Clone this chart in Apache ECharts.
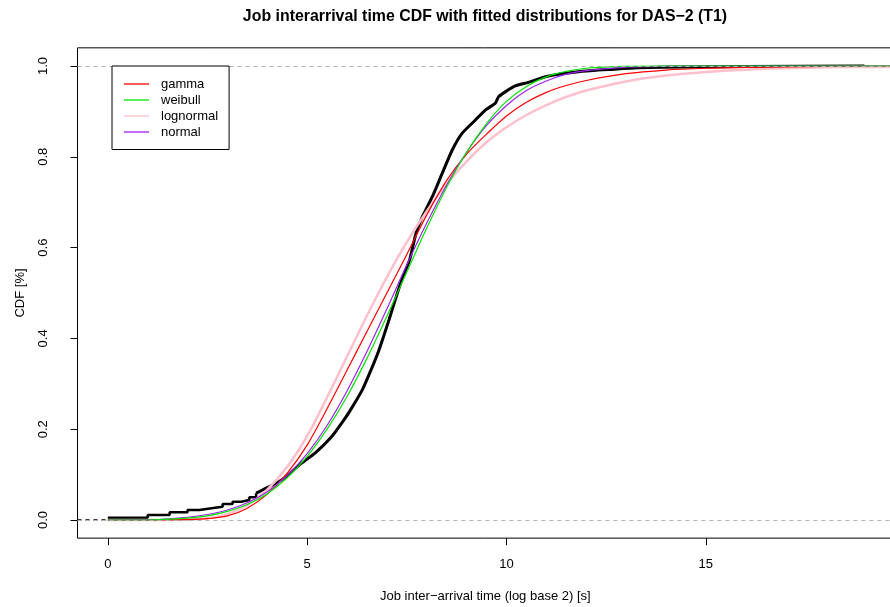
<!DOCTYPE html>
<html>
<head>
<meta charset="utf-8">
<script src="https://cdn.jsdelivr.net/npm/echarts@6.0.0/dist/echarts.min.js"></script>
<style>
html,body{margin:0;padding:0;background:#fff;}
#chart{width:890px;height:607px;}
</style>
</head>
<body>
<div id="chart"></div>
<script>
// ---- data ----
const titleText = 'Job interarrival time CDF with fitted distributions for DAS\u22122 (T1)';
const xTitle = 'Job inter\u2212arrival time (log base 2) [s]';
const yTitle = 'CDF [%]';
const xTicks = [0, 5, 10, 15];
const yTicks = [0, 0.2, 0.4, 0.6, 0.8, 1.0];
const xMin = -0.76, xMax = 19.7;
const yMin = -0.04, yMax = 1.04;
const refLines = [0, 1];

// empirical CDF: sparse steps at the left
const ecdfStepX = [0, 1, 1.55, 2, 2.3, 2.6, 2.88, 3.13, 3.35, 3.55, 3.72];
const ecdfStepY = [0.005, 0.011, 0.017, 0.022, 0.026, 0.029, 0.035, 0.040, 0.044, 0.050, 0.059];
// empirical CDF: dense part
const ecdfX = [3.72, 3.88, 4.22, 4.47, 4.8, 5.22, 5.63, 5.88, 6.05, 6.38, 6.6, 6.8, 7.05, 7.26, 7.4, 7.57, 7.73, 7.89, 8.14, 8.39, 8.64, 8.89, 9.22, 9.47, 9.72, 9.8, 9.97, 10.22, 10.55, 11.0, 11.85, 12.7, 13.3, 14.5, 16, 18.98];
const ecdfY = [0.059, 0.066, 0.081, 0.095, 0.121, 0.149, 0.185, 0.215, 0.237, 0.286, 0.33, 0.374, 0.44, 0.499, 0.535, 0.573, 0.631, 0.668, 0.712, 0.764, 0.815, 0.852, 0.881, 0.903, 0.918, 0.932, 0.943, 0.956, 0.964, 0.977, 0.988, 0.993, 0.996, 0.998, 0.999, 1.0];

// fitted distributions
const fitX      = [0, 1, 2, 2.5, 3, 3.5, 4, 4.5, 5, 5.5, 6, 6.5, 7, 7.5, 8, 8.5, 9, 9.5, 10, 10.5, 11, 11.5, 12, 13, 14, 15, 16, 17, 18, 19.7];
const gammaY    = [0, 0, 0.001, 0.003, 0.009, 0.026, 0.057, 0.103, 0.165, 0.245, 0.33, 0.415, 0.5, 0.585, 0.672, 0.748, 0.806, 0.85, 0.89, 0.92, 0.942, 0.957, 0.968, 0.983, 0.991, 0.995, 0.997, 0.998, 0.999, 1.0];
const weibullY  = [0, 0, 0.004, 0.009, 0.019, 0.034, 0.058, 0.093, 0.14, 0.2, 0.272, 0.356, 0.449, 0.546, 0.643, 0.733, 0.81, 0.873, 0.922, 0.955, 0.976, 0.988, 0.995, 0.9993, 1, 1, 1, 1, 1, 1];
const lognormY  = [0, 0, 0.001, 0.004, 0.013, 0.033, 0.067, 0.117, 0.185, 0.27, 0.36, 0.45, 0.535, 0.612, 0.68, 0.74, 0.79, 0.832, 0.865, 0.892, 0.914, 0.932, 0.946, 0.966, 0.979, 0.987, 0.992, 0.995, 0.997, 0.998];
const normalY   = [0, 0.0003, 0.006, 0.012, 0.022, 0.038, 0.062, 0.098, 0.146, 0.208, 0.284, 0.371, 0.465, 0.562, 0.654, 0.738, 0.81, 0.869, 0.913, 0.946, 0.967, 0.982, 0.99, 0.9975, 0.9995, 1, 1, 1, 1, 1];
const legendNames = ['gamma', 'weibull', 'lognormal', 'normal'];

// ---- build chart ----
const FONT = '"Liberation Sans", Arial, Helvetica, sans-serif';
const zip = (xs, ys) => xs.map((x, i) => [x, ys[i]]);

const chart = echarts.init(document.getElementById('chart'), null, {renderer: 'canvas'});

const fitLine = (name, ys, color, width) => ({
  name, type: 'line', data: zip(fitX, ys), showSymbol: false, symbol: 'none',
  smooth: 0.3, silent: true, animation: false,
  lineStyle: {color, width}, itemStyle: {color}
});

const option = {
  animation: false,
  backgroundColor: '#ffffff',
  title: {
    text: titleText, left: 480, top: 4, textAlign: 'center',
    textStyle: {fontFamily: FONT, fontSize: 15.9, fontWeight: 'bold', color: '#000'}
  },
  legend: {
    data: legendNames,
    orient: 'vertical', left: 112, top: 66,
    padding: [11.5, 11, 11, 12],
    itemGap: 3, itemWidth: 25, itemHeight: 1.3, icon: 'rect',
    backgroundColor: '#ffffff', borderColor: '#000', borderWidth: 1,
    selectedMode: false,
    textStyle: {fontFamily: FONT, fontSize: 13, lineHeight: 13, color: '#000', padding: [0, 0, 0, 7]},
    z: 10
  },
  grid: {
    left: 77.5, top: 47.84, width: 815.7, height: 490.3,
    containLabel: false, outerBoundsMode: 'none',
    show: true, borderColor: '#000', borderWidth: 1, backgroundColor: 'transparent'
  },
  xAxis: {
    type: 'value', min: xMin, max: xMax,
    name: xTitle, nameLocation: 'middle', nameGap: 52,
    nameTextStyle: {fontFamily: FONT, fontSize: 13, color: '#000'},
    axisLine: {show: false, onZero: false},
    axisTick: {show: true, length: 7, customValues: xTicks, lineStyle: {color: '#000', width: 1}},
    axisLabel: {customValues: xTicks, margin: 20, fontFamily: FONT, fontSize: 13, color: '#000'},
    splitLine: {show: false}
  },
  yAxis: {
    type: 'value', min: yMin, max: yMax,
    name: yTitle, nameLocation: 'middle', nameGap: 51, nameRotate: 90,
    nameTextStyle: {fontFamily: FONT, fontSize: 13, color: '#000'},
    axisLine: {show: false, onZero: false},
    axisTick: {show: true, length: 7, customValues: yTicks, lineStyle: {color: '#000', width: 1}},
    axisLabel: {customValues: yTicks, rotate: 90, margin: 28, fontFamily: FONT, fontSize: 13, color: '#000',
      formatter: v => v.toFixed(1)},
    splitLine: {show: false}
  },
  series: [
    {
      name: 'ecdfTail', type: 'line', data: [[xMin, 0], [ecdfStepX[0], 0]],
      symbol: 'none', silent: true, lineStyle: {color: '#000', width: 1.5, type: [4, 4]},
      markLine: {
        silent: true, symbol: 'none', label: {show: false},
        lineStyle: {color: '#b3b3b3', width: 1, type: [4, 4]},
        data: refLines.map(v => ({yAxis: v}))
      }
    },
    {
      name: 'ecdfSteps', type: 'line', step: 'end', data: zip(ecdfStepX, ecdfStepY),
      symbol: 'none', silent: true, lineStyle: {color: '#000', width: 2.5}
    },
    {
      name: 'ecdf', type: 'line', data: zip(ecdfX, ecdfY),
      symbol: 'none', silent: true, smooth: 0.2, lineStyle: {color: '#000', width: 3}
    },
    fitLine('lognormal', lognormY, '#FFC0CB', 2.5),
    fitLine('gamma', gammaY, '#FF0000', 1.2),
    fitLine('normal', normalY, '#A020F0', 1.2),
    fitLine('weibull', weibullY, '#00E600', 1.2)
  ]
};
chart.setOption(option);
</script>
</body>
</html>
